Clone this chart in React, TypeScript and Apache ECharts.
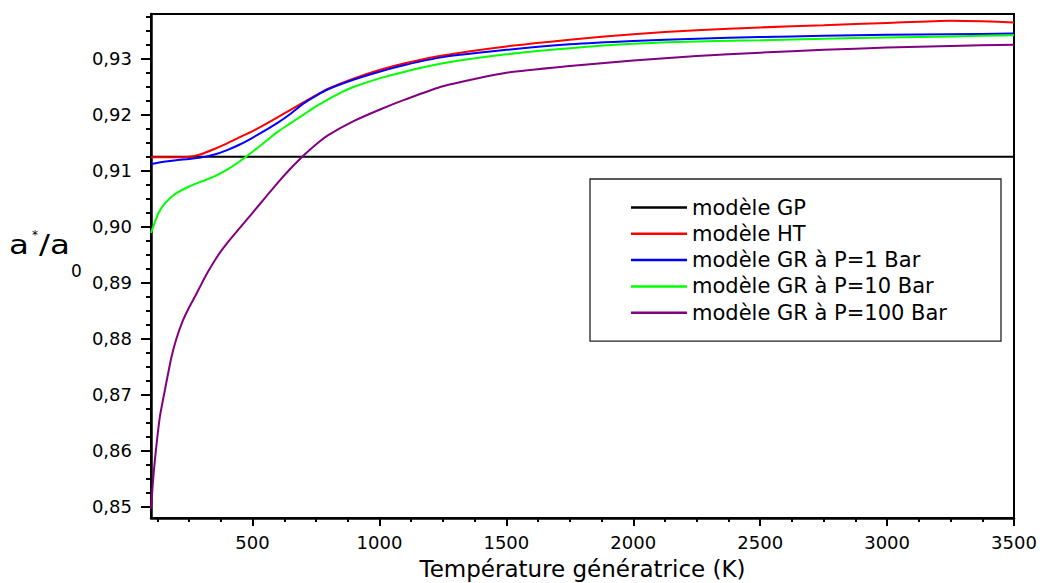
import React, { useEffect, useRef } from "react";
import * as echarts from "echarts";

const FONT = "'DejaVu Sans', 'Liberation Sans', sans-serif";

// Axis ticks
const xMajorTicks = [500, 1000, 1500, 2000, 2500, 3000, 3500];
const xMinorTicks = [125, 250, 375, 625, 750, 875, 1125, 1250, 1375, 1625, 1750, 1875, 2125, 2250, 2375, 2625, 2750, 2875, 3125, 3250, 3375];
const yMajorTicks = [0.85, 0.86, 0.87, 0.88, 0.89, 0.9, 0.91, 0.92, 0.93];
const yMinorTicks = [0.8525, 0.855, 0.8575, 0.8625, 0.865, 0.8675, 0.8725, 0.875, 0.8775, 0.8825, 0.885, 0.8875, 0.8925, 0.895, 0.8975, 0.9025, 0.905, 0.9075, 0.9125, 0.915, 0.9175, 0.9225, 0.925, 0.9275, 0.9325, 0.935, 0.9375];

const seriesNames = [
  "modèle GP",
  "modèle HT",
  "modèle GR à P=1 Bar",
  "modèle GR à P=10 Bar",
  "modèle GR à P=100 Bar",
];
const seriesColors = ["#000000", "#ff0000", "#0000ff", "#00ff00", "#800080"];

// [T (K), a*/a0]
const gpData: [number, number][] = [[100, 0.9125], [3500, 0.9125]];

const htData: [number, number][] = [
  [100, 0.9124], [150, 0.9124], [200, 0.9124], [250, 0.9125], [300, 0.913], [350, 0.9139],
  [400, 0.9149], [450, 0.916], [500, 0.9171], [550, 0.9183], [600, 0.9196], [650, 0.9209],
  [700, 0.9222], [750, 0.9235], [800, 0.9247], [900, 0.9265], [1000, 0.928], [1100, 0.9292],
  [1250, 0.9306], [1500, 0.9322], [1750, 0.9334], [2000, 0.9344], [2250, 0.9351], [2500, 0.9356],
  [2750, 0.936], [3000, 0.9364], [3250, 0.9368], [3375, 0.9367], [3500, 0.9365],
];

const gr1Data: [number, number][] = [
  [100, 0.9112], [150, 0.9116], [200, 0.9119], [250, 0.9121], [300, 0.9124], [350, 0.9129],
  [400, 0.9137], [450, 0.9147], [500, 0.9159], [550, 0.9172], [600, 0.9186], [650, 0.9202],
  [700, 0.922], [750, 0.9234], [800, 0.9246], [900, 0.9263], [1000, 0.9277], [1100, 0.9289],
  [1250, 0.9303], [1500, 0.9316], [1750, 0.9326], [2000, 0.9332], [2250, 0.9336], [2500, 0.9339],
  [2750, 0.9341], [3000, 0.9343], [3250, 0.9344], [3500, 0.9345],
];

const gr10Data: [number, number][] = [
  [100, 0.8989], [115, 0.9008], [130, 0.9025], [150, 0.9039], [175, 0.9051], [200, 0.906],
  [250, 0.9072], [300, 0.9081], [350, 0.909], [400, 0.9102], [450, 0.9117], [500, 0.9134],
  [550, 0.9152], [600, 0.917], [650, 0.9185], [700, 0.92], [750, 0.9215], [800, 0.9228],
  [850, 0.924], [900, 0.925], [1000, 0.9265], [1100, 0.9277], [1250, 0.9292], [1500, 0.9308],
  [1750, 0.9319], [2000, 0.9327], [2250, 0.9331], [2500, 0.9333], [2750, 0.9336], [3000, 0.9338],
  [3250, 0.934], [3500, 0.9342],
];

const gr100Data: [number, number][] = [
  [100, 0.8497], [110, 0.8558], [120, 0.8604], [135, 0.8661], [155, 0.8709], [180, 0.8766],
  [200, 0.88], [225, 0.8832], [250, 0.8856], [275, 0.8877], [300, 0.8899], [325, 0.892],
  [350, 0.8939], [375, 0.8956], [400, 0.8971], [450, 0.8998], [500, 0.9025], [550, 0.9052],
  [600, 0.9079], [650, 0.9104], [700, 0.9127], [750, 0.9147], [800, 0.9164], [900, 0.9189],
  [1000, 0.9209], [1100, 0.9227], [1250, 0.9251], [1500, 0.9275], [1750, 0.9287], [2000, 0.9297],
  [2250, 0.9305], [2500, 0.9311], [2750, 0.9316], [3000, 0.932], [3250, 0.9323], [3500, 0.9325],
];

const allData = [gpData, htData, gr1Data, gr10Data, gr100Data];

const X_MIN = 100;
const X_MAX = 3500;
const Y_MIN = 0.848;
const Y_MAX = 0.938;

export default function App() {
  const ref = useRef<HTMLDivElement>(null);

  useEffect(() => {
    if (!ref.current) return;
    const chart = echarts.init(ref.current, undefined, { renderer: "svg" });
    const option: any = {
      animation: false,
      backgroundColor: "#ffffff",
      textStyle: { fontFamily: FONT },
      grid: {
        left: 151,
        right: 30,
        top: 14,
        bottom: 65,
        show: true,
        borderColor: "#000",
        borderWidth: 2,
        backgroundColor: "transparent",
        outerBoundsMode: "none",
      },
      legend: {
        orient: "vertical",
        left: 590,
        top: 179,
        data: seriesNames,
        icon: "rect",
        itemWidth: 56,
        itemHeight: 2.5,
        itemGap: 5.3,
        padding: [18, 54, 18, 41],
        borderColor: "#222",
        borderWidth: 1.3,
        backgroundColor: "#fff",
        textStyle: { fontFamily: FONT, fontSize: 21, color: "#000", lineHeight: 21 },
        selectedMode: false,
      },
      xAxis: [
        {
          type: "value",
          min: X_MIN,
          max: X_MAX,
          position: "bottom",
          name: "Température génératrice (K)",
          nameLocation: "middle",
          nameGap: 39,
          nameTextStyle: { fontFamily: FONT, fontSize: 23, color: "#000" },
          axisLine: { show: true, onZero: false, lineStyle: { color: "#000", width: 2.5 } },
          axisTick: { show: true, inside: false, length: 8, customValues: xMajorTicks, lineStyle: { color: "#000", width: 2 } },
          axisLabel: {
            show: true,
            margin: 15,
            customValues: xMajorTicks,
            fontFamily: FONT,
            fontSize: 18,
            color: "#000",
            formatter: (v: number) => String(Math.round(v)),
          },
          splitLine: { show: false },
        },
        {
          type: "value",
          min: X_MIN,
          max: X_MAX,
          position: "bottom",
          offset: 0,
          axisLine: { show: false, onZero: false },
          axisTick: { show: true, inside: false, length: 4, customValues: xMinorTicks, lineStyle: { color: "#000", width: 2 } },
          axisLabel: { show: false },
          splitLine: { show: false },
        },
      ],
      yAxis: [
        {
          type: "value",
          min: Y_MIN,
          max: Y_MAX,
          position: "left",
          axisLine: { show: true, onZero: false, lineStyle: { color: "#000", width: 2.5 } },
          axisTick: { show: true, inside: false, length: 10, customValues: yMajorTicks, lineStyle: { color: "#000", width: 2 } },
          axisLabel: {
            show: true,
            margin: 19,
            customValues: yMajorTicks,
            fontFamily: FONT,
            fontSize: 18,
            color: "#000",
            formatter: (v: number) => v.toFixed(2).replace(".", ","),
          },
          splitLine: { show: false },
        },
        {
          type: "value",
          min: Y_MIN,
          max: Y_MAX,
          position: "left",
          offset: 0,
          axisLine: { show: false, onZero: false },
          axisTick: { show: true, inside: false, length: 5, customValues: yMinorTicks, lineStyle: { color: "#000", width: 2 } },
          axisLabel: { show: false },
          splitLine: { show: false },
        },
      ],
      graphic: [
        { type: "text", x: 9, y: 245, scaleX: 1.25, style: { text: "a", font: `26px ${FONT}`, fill: "#000", verticalAlign: "middle", align: "left" } },
        { type: "text", x: 35, y: 235, style: { text: "*", font: `12px ${FONT}`, fill: "#000", verticalAlign: "middle", align: "center" } },
        { type: "text", x: 39, y: 245, scaleX: 1.25, style: { text: "/a", font: `26px ${FONT}`, fill: "#000", verticalAlign: "middle", align: "left" } },
        { type: "text", x: 76.5, y: 271, style: { text: "0", font: `17px ${FONT}`, fill: "#000", verticalAlign: "middle", align: "center" } },
      ],
      series: seriesNames.map((name, i) => ({
        name,
        type: "line",
        xAxisIndex: 0,
        yAxisIndex: 0,
        data: allData[i],
        showSymbol: false,
        symbol: "none",
        smooth: i === 0 ? false : 0.2,
        clip: true,
        lineStyle: { color: seriesColors[i], width: 2 },
        itemStyle: { color: seriesColors[i] },
        z: i === 0 ? 2 : 3,
      })),
    };
    chart.setOption(option);
    return () => chart.dispose();
  }, []);

  return (
    <div
      ref={ref}
      style={{ position: "absolute", left: 0, top: 0, width: 1044, height: 583, background: "#fff" }}
    />
  );
}
